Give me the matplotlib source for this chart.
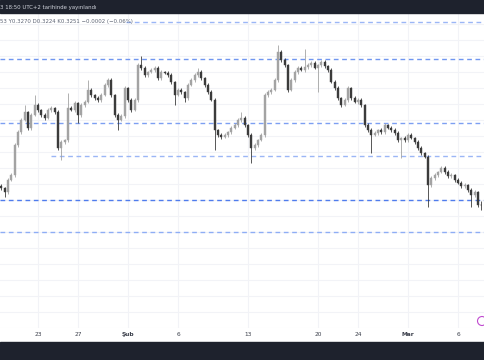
import matplotlib
matplotlib.use("Agg")
import matplotlib.pyplot as plt
import matplotlib.dates as mdates
from matplotlib.patches import Rectangle, Ellipse
import numpy as np
import pandas as pd

# 8h bars, ADA-like price
first_open = 0.3346
closes = [
    0.3336, 0.3316, 0.3376, 0.3401, 0.3551, 0.3616, 0.3676, 0.3716, 0.3636, 0.3701,
    0.3751, 0.3726, 0.3701, 0.3686, 0.3726, 0.3736, 0.3716, 0.3536, 0.3566, 0.3576,
    0.3736, 0.3726, 0.3761, 0.3701, 0.3751, 0.3766, 0.3826, 0.3801, 0.3786, 0.3776,
    0.3801, 0.3851, 0.3876, 0.3801, 0.3701, 0.3676, 0.3696, 0.3836, 0.3776, 0.3726,
    0.3776, 0.3951, 0.3936, 0.3901, 0.3916, 0.3926, 0.3936, 0.3886, 0.3916, 0.3911,
    0.3901, 0.3866, 0.3801, 0.3826, 0.3816, 0.3786, 0.3851, 0.3876, 0.3901, 0.3916,
    0.3886, 0.3851, 0.3816, 0.3776, 0.3626, 0.3601, 0.3591, 0.3601, 0.3616, 0.3636,
    0.3651, 0.3676, 0.3686, 0.3651, 0.3601, 0.3536, 0.3551, 0.3576, 0.3601, 0.3801,
    0.3816, 0.3826, 0.3876, 0.4016, 0.3976, 0.3951, 0.3826, 0.3876, 0.3916, 0.3936,
    0.3926, 0.3941, 0.3951, 0.3961, 0.3936, 0.3951, 0.3966, 0.3946, 0.3926, 0.3866,
    0.3836, 0.3786, 0.3751, 0.3776, 0.3836, 0.3786, 0.3766, 0.3776, 0.3751, 0.3651,
    0.3626, 0.3601, 0.3611, 0.3626, 0.3616, 0.3651, 0.3636, 0.3626, 0.3611, 0.3576,
    0.3586, 0.3576, 0.3601, 0.3586, 0.3566, 0.3536, 0.3511, 0.3491, 0.3351, 0.3386,
    0.3401, 0.3416, 0.3436, 0.3416, 0.3396, 0.3401, 0.3376, 0.3361, 0.3346, 0.3351,
    0.3326, 0.3301, 0.3316, 0.3253, 0.3251,
]
# wick lengths in 1e-4 price units
up_wick = [
    8, 6, 10, 8, 12, 8, 10, 35, 6, 10,
    50, 8, 6, 10, 8, 12, 6, 8, 10, 6,
    75, 8, 10, 6, 12, 8, 50, 8, 6, 10,
    8, 12, 10, 8, 6, 10, 8, 12, 6, 8,
    10, 8, 45, 10, 6, 8, 12, 8, 10, 6,
    8, 10, 6, 12, 8, 6, 10, 8, 12, 20,
    8, 6, 10, 8, 12, 6, 8, 10, 6, 8,
    10, 12, 30, 8, 6, 10, 8, 6, 12, 10,
    8, 10, 12, 35, 8, 10, 6, 8, 12, 10,
    8, 90, 10, 8, 12, 6, 10, 8, 6, 10,
    8, 12, 6, 10, 8, 6, 12, 8, 10, 6,
    8, 10, 12, 6, 8, 10, 6, 12, 8, 10,
    6, 8, 10, 12, 6, 8, 10, 6, 12, 8,
    10, 6, 8, 12, 10, 8, 6, 10, 8, 12,
    6, 10, 8, 6, 17,
]
dn_wick = [
    10, 25, 8, 6, 12, 8, 10, 6, 12, 8,
    6, 10, 8, 12, 6, 8, 10, 12, 60, 8,
    10, 6, 8, 40, 10, 8, 6, 12, 8, 10,
    8, 6, 10, 12, 8, 50, 6, 10, 8, 12,
    6, 10, 8, 12, 8, 6, 10, 8, 12, 6,
    10, 8, 50, 6, 10, 20, 8, 6, 10, 8,
    12, 8, 10, 6, 100, 8, 12, 6, 10, 8,
    6, 10, 8, 12, 10, 75, 8, 10, 6, 12,
    10, 8, 6, 10, 12, 8, 10, 6, 8, 12,
    6, 10, 8, 12, 6, 120, 8, 10, 12, 6,
    10, 8, 12, 6, 10, 8, 6, 12, 8, 10,
    8, 90, 6, 10, 8, 12, 6, 10, 8, 12,
    90, 8, 10, 6, 12, 8, 10, 6, 110, 8,
    10, 12, 6, 8, 10, 12, 8, 6, 10, 8,
    12, 60, 8, 10, 27,
]

levels = [0.4166, 0.3981, 0.3661, 0.3496, 0.3276, 0.3116]
level_start = ['2023-01-31 18:00', None, None, '2023-01-24 07:00', None, None]
level_colors = ['#9bb6f6', '#7096f0', '#7d9ff2', '#9bb6f6', '#4f7ced', '#8eadf5']

tick_dates = ['2023-01-23', '2023-01-27', '2023-02-01', '2023-02-06', '2023-02-13',
              '2023-02-20', '2023-02-24', '2023-03-01', '2023-03-06']
tick_labels = ['23', '27', 'Şub', '6', '13', '20', '24', 'Mar', '6']
bold_ticks = ['Şub', 'Mar']

closes = np.array(closes)
opens = np.r_[first_open, closes[:-1]]
highs = np.maximum(opens, closes) + np.array(up_wick) * 1e-4
lows = np.minimum(opens, closes) - np.array(dn_wick) * 1e-4
times = pd.date_range('2023-01-19 08:00', periods=len(closes), freq='8h')
t = mdates.date2num(times)

W, H = 485, 360
fig = plt.figure(figsize=(W / 100, H / 100), dpi=100)
fig.patch.set_facecolor('white')
ax = fig.add_axes([0, (H - 328) / H, 1, 315 / H])
ax.set_facecolor('white')

x0 = mdates.date2num(pd.Timestamp('2023-01-23')) - 3.8
ax.set_xlim(x0, x0 + 48.5)
ax.set_ylim(0.2636, 0.4211)

# grid
for d in tick_dates:
    ax.axvline(mdates.date2num(pd.Timestamp(d)), color='#f2f3f7', lw=0.8, zorder=0)
for g in np.arange(0.2636, 0.4211, 0.0080):
    ax.axhline(g, color='#f2f3f7', lw=0.8, zorder=0)

# horizontal levels
for lv, st, c in zip(levels, level_start, level_colors):
    xs = ax.get_xlim()[0] if st is None else mdates.date2num(pd.Timestamp(st))
    ax.plot([xs, ax.get_xlim()[1]], [lv, lv], color=c, lw=1.0,
            dashes=(3.4, 2.6), zorder=1)

# candles
up = closes >= opens
col = np.where(up, '#a3a3a3', '#3b3b3b')
ax.vlines(t, lows, highs, colors=col, lw=0.6, zorder=2)
body = np.maximum(np.abs(closes - opens), 0.00025)
ax.bar(t, body, bottom=np.minimum(opens, closes), width=0.21,
       color=col, edgecolor=col, lw=0.3, zorder=3)

ax.set_xticks([mdates.date2num(pd.Timestamp(d)) for d in tick_dates])
ax.set_xticklabels(tick_labels)
for lab in ax.get_xticklabels():
    lab.set_fontsize(4.2)
    lab.set_color('#3a3e4a')
    if lab.get_text() in bold_ticks:
        lab.set_fontweight('bold')
ax.tick_params(axis='x', length=0, pad=3)
ax.set_yticks([])
for s in ax.spines.values():
    s.set_visible(False)

# dark bands
fig.patches.append(Rectangle((0, 1 - 13 / H), 1, 13 / H, transform=fig.transFigure,
                             color='#1e222d', zorder=0))
fig.patches.append(Rectangle((0, 0), 1, 18 / H, transform=fig.transFigure,
                             color='#1e222d', zorder=0))
fig.text(0, 1 - 7 / H, '3 18:50 UTC+2 tarihinde yayınlandı', color='#d1d4dc',
         fontsize=3.9, va='center', ha='left')
fig.text(0, 1 - 22 / H, '53 Y0.3270 D0.3224 K0.3251 −0.0002 (−0.06%)',
         color='#5d6474', fontsize=3.9, va='center', ha='left')

# small logo circle bottom right
fig.patches.append(Ellipse((482 / W, 1 - 321 / H), 9 / W, 9 / H,
                           transform=fig.transFigure, fill=False,
                           ec='#c04ad0', lw=0.8))

fig.savefig('out.png', dpi=100)
